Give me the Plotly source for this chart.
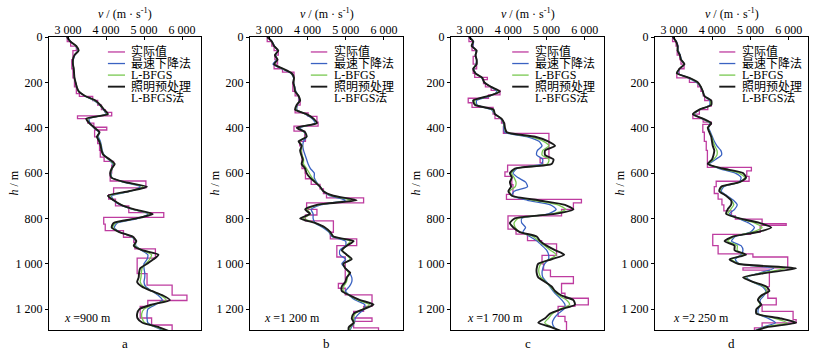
import plotly.graph_objects as go

# ---------------- data ----------------
depth = list(range(0, 1301, 20))

panel_letters = ["a", "b", "c", "d"]
panel_offsets = ["900", "1 200", "1 700", "2 250"]
series_names = ["实际值", "最速下降法", "L-BFGS", "照明预处理", "L-BFGS法"]
x_tickvals = [3000, 4000, 5000, 6000]
x_ticktext = ["3 000", "4 000", "5 000", "6 000"]
y_tickvals = [0, 200, 400, 600, 800, 1000, 1200]
y_ticktext = ["0", "200", "400", "600", "800", "1 000", "1 200"]

# --- panel a (x = 900 m) ---
true_a_top = [0, 20, 40, 60, 100, 140, 180, 220, 250, 262, 280, 300, 320, 332, 348, 360, 380, 398, 410, 440,
              470, 500, 530, 548, 565, 600, 635, 665, 695, 715, 745, 774, 795, 825, 854, 883, 905, 934, 975,
              1043, 1094, 1138, 1162, 1188, 1239, 1270, 1300]
true_a_vel = [2980, 3070, 3220, 3130, 3100, 3130, 3170, 3220, 3300, 3650, 3780, 3880, 3980, 4150, 3250, 3520,
              3680, 4020, 3700, 3780, 3830, 3850, 3950, 4200, 4150, 4110, 5050, 4200, 4070, 4250, 4600, 5520,
              3940, 3980, 4460, 4730, 4760, 5300, 4820, 5080, 5740, 6130, 5100, 4900, 5200, 5740, 5740]
sd_a = [2990, 3070, 3200, 3260, 3180, 3140, 3130, 3150, 3160, 3170,
        3200, 3230, 3290, 3440, 3680, 3830, 3930, 4000, 3560, 3580,
        3680, 3810, 3800, 3850, 3880, 3900, 3950, 4070, 4180, 4160,
        4130, 4160, 4450, 4900, 4650, 4150, 4200, 4380, 4700, 5100,
        4850, 4300, 4220, 4360, 4660, 4780, 4780, 4930, 5100, 5080,
        5000, 5000, 5020, 5020, 5000, 5040, 5200, 5380, 5480, 5300,
        5100, 5080, 5080, 5100, 5300, 5600]
lbfgs_a = [2980, 3060, 3210, 3270, 3170, 3130, 3130, 3150, 3160, 3170,
           3200, 3230, 3290, 3450, 3700, 3840, 3940, 4020, 3520, 3560,
           3690, 3820, 3780, 3830, 3870, 3890, 3940, 4080, 4200, 4160,
           4120, 4150, 4480, 4980, 4620, 4100, 4200, 4400, 4720, 5150,
           4820, 4250, 4180, 4350, 4680, 4790, 4760, 4950, 5200, 5150,
           5050, 4950, 4930, 4920, 4900, 4980, 5200, 5450, 5580, 5250,
           5000, 4940, 4950, 5020, 5350, 5650]
ilbfgs_a = [2970, 3060, 3220, 3280, 3170, 3130, 3130, 3150, 3160, 3170,
            3200, 3230, 3280, 3450, 3720, 3850, 3950, 4050, 3480, 3560,
            3700, 3830, 3760, 3820, 3860, 3880, 3930, 4100, 4230, 4150,
            4110, 4140, 4500, 5080, 4600, 4050, 4200, 4400, 4750, 5230,
            4800, 4200, 4150, 4350, 4700, 4800, 4730, 4950, 5380, 5250,
            5080, 4900, 4870, 4860, 4820, 4940, 5200, 5500, 5680, 5200,
            4880, 4820, 4830, 4960, 5400, 5700]

# --- panel b (x = 1 200 m) ---
true_b_top = [0, 20, 40, 60, 80, 100, 120, 140, 155, 180, 200, 240, 260, 280, 300, 320, 335, 350, 375, 393,
              415, 440, 460, 480, 520, 560, 580, 600, 625, 650, 670, 690, 709, 731, 760, 785, 811, 861, 890,
              920, 970, 1087, 1108, 1137, 1188, 1210, 1239, 1254, 1283, 1300]
true_b_vel = [2950, 3070, 3130, 3240, 3150, 3220, 3130, 3350, 3650, 3650, 3620, 3680, 3770, 3810, 3720, 3680,
              4020, 4250, 4280, 3650, 3930, 3950, 3800, 3850, 3860, 3860, 3940, 3950, 4100, 4330, 4420, 4500,
              5470, 3980, 4250, 3950, 4680, 4600, 5290, 4770, 4990, 4810, 4990, 5690, 5470, 5210, 5690, 5210,
              5860, 5860]
sd_b = [2970, 3080, 3140, 3220, 3170, 3200, 3100, 3330, 3570, 3640,
        3640, 3670, 3700, 3770, 3790, 3740, 3720, 3950, 4120, 4200,
        3800, 3920, 3980, 3900, 3880, 3900, 3940, 3980, 4020, 4080,
        4180, 4180, 4240, 4330, 4420, 4580, 5000, 4350, 4100, 4150,
        4150, 4200, 4400, 4560, 4640, 5000, 5000, 4850, 4850, 5000,
        4900, 5000, 5100, 5160, 5160, 5100, 5000, 5100, 5250, 5500,
        5480, 5350, 5250, 5230, 5150, 5100]
lbfgs_b = [2960, 3070, 3130, 3230, 3160, 3210, 3140, 3350, 3580, 3650,
           3640, 3660, 3690, 3770, 3800, 3730, 3700, 3970, 4150, 4230,
           3750, 3930, 3970, 3800, 3860, 3840, 3860, 3900, 3900, 3980,
           4050, 4120, 4220, 4330, 4420, 4620, 5150, 4300, 4000, 4080,
           3900, 4200, 4450, 4580, 4670, 5120, 5020, 4920, 5020, 5120,
           4950, 4990, 5080, 5050, 5020, 4950, 4940, 5100, 5320, 5620,
           5450, 5250, 5200, 5220, 5120, 5100]
ilbfgs_b = [2950, 3070, 3130, 3240, 3150, 3220, 3130, 3370, 3590, 3650,
            3630, 3660, 3680, 3770, 3810, 3720, 3680, 3980, 4160, 4250,
            3720, 3940, 3980, 3770, 3850, 3810, 3840, 3880, 3850, 3940,
            3980, 4070, 4200, 4330, 4420, 4680, 5290, 4250, 3940, 4070,
            3810, 4200, 4460, 4600, 4680, 5210, 5030, 4900, 5030, 5160,
            4940, 4990, 5120, 5030, 4990, 4900, 4900, 5120, 5380, 5730,
            5470, 5210, 5160, 5210, 5080, 5080]

# --- panel c (x = 1 700 m) ---
true_c_top = [0, 20, 40, 60, 85, 120, 140, 160, 178, 188, 205, 220, 235, 255, 270, 290, 310, 340, 360, 380,
              395, 425, 535, 555, 565, 595, 615, 651, 694, 716, 731, 760, 789, 847, 869, 898, 912, 963, 1000,
              1028, 1057, 1087, 1130, 1152, 1181, 1188, 1232, 1255, 1300]
true_c_vel = [2970, 3080, 3050, 3150, 3080, 3170, 3080, 3120, 3450, 3350, 3400, 3550, 3780, 3480, 2950, 3050,
              3600, 3650, 3820, 3900, 3870, 5060, 4830, 4900, 3980, 3910, 4090, 4120, 3950, 5910, 5700, 5390,
              3990, 4200, 4500, 4870, 5260, 4880, 4920, 5100, 5700, 5390, 5480, 6090, 5740, 5300, 5480, 5520,
              5520]
sd_c = [2990, 3090, 3070, 3150, 3140, 3170, 3150, 3100, 3150, 3300,
        3370, 3540, 3700, 3530, 3170, 3180, 3550, 3650, 3800, 3870,
        3880, 3900, 4500, 4800, 4880, 4760, 4740, 4900, 4870, 4230,
        4120, 4250, 4450, 4500, 4150, 4100, 4500, 5100, 5250, 5050,
        4350, 4350, 4450, 4380, 4560, 4750, 4880, 5000, 5050, 5050,
        4950, 4900, 4880, 4900, 5000, 5080, 5170, 5280, 5400, 5480,
        5450, 5300, 5200, 5150, 5200, 5350]
lbfgs_c = [2980, 3080, 3050, 3160, 3140, 3170, 3160, 3090, 3140, 3310,
           3370, 3550, 3740, 3500, 3120, 3150, 3580, 3650, 3810, 3880,
           3900, 3940, 4600, 4920, 5060, 4900, 4880, 5060, 5020, 4200,
           4080, 4150, 4200, 4180, 4030, 4100, 4650, 5300, 5500, 5150,
           4250, 4150, 4180, 4300, 4650, 4800, 4950, 5100, 5250, 5080,
           4850, 4800, 4800, 4850, 4980, 5100, 5200, 5320, 5520, 5600,
           5350, 5150, 5050, 4950, 5150, 5400]
ilbfgs_c = [2970, 3080, 3040, 3170, 3140, 3170, 3170, 3080, 3140, 3320,
            3370, 3550, 3780, 3480, 3080, 3130, 3610, 3650, 3820, 3890,
            3910, 3960, 4700, 5040, 5220, 4960, 4960, 5180, 5130, 4170,
            4040, 4090, 4040, 4070, 4000, 4090, 4780, 5480, 5700, 5220,
            4170, 4040, 4130, 4300, 4740, 4830, 5000, 5220, 5460, 5130,
            4780, 4740, 4740, 4780, 4960, 5130, 5220, 5390, 5700, 5740,
            5390, 5090, 4960, 4780, 5130, 5430]

# --- panel d (x = 2 250 m) ---
true_d_top = [0, 20, 40, 60, 80, 100, 120, 140, 160, 180, 200, 220, 240, 260, 280, 305, 320, 340, 360, 375,
              385, 420, 460, 500, 575, 590, 615, 636, 660, 690, 715, 740, 767, 789, 803, 823, 830, 861, 870,
              920, 956, 970, 1018, 1028, 1101, 1152, 1181, 1210, 1246, 1261, 1283, 1300]
true_d_vel = [2960, 3050, 3100, 3080, 3150, 3180, 3260, 3130, 3070, 3400, 3620, 3700, 3760, 3800, 3970, 3880,
              3660, 3490, 3760, 3970, 3750, 3790, 3840, 3870, 5020, 4900, 4960, 4100, 4050, 4150, 4250, 4300,
              4500, 4600, 5300, 5930, 5250, 5000, 4010, 4150, 5060, 5970, 4800, 5490, 5450, 5670, 5300, 6110,
              6190, 5300, 5100, 5100]
sd_d = [2980, 3060, 3100, 3110, 3160, 3190, 3260, 3150, 3100, 3370,
        3580, 3690, 3750, 3790, 3930, 3930, 3680, 3530, 3730, 3930,
        3900, 3950, 4000, 4050, 4120, 4220, 4240, 4080, 3920, 4180,
        4600, 4750, 4700, 4300, 4230, 4380, 4550, 4650, 4580, 4450,
        4680, 4950, 5100, 5000, 4600, 4500, 4750, 4800, 4750, 4600,
        4700, 5600, 5250, 4900, 5050, 5300, 5400, 5350, 5250, 5250,
        5200, 5200, 5450, 5650, 5300, 5050]
lbfgs_d = [2970, 3050, 3090, 3100, 3150, 3180, 3260, 3140, 3080, 3390,
           3600, 3700, 3750, 3790, 3950, 3950, 3670, 3510, 3740, 3950,
           3890, 3930, 3980, 4020, 4060, 4120, 4120, 4030, 3900, 4230,
           4700, 4850, 4720, 4260, 4200, 4360, 4500, 4560, 4480, 4400,
           4700, 5100, 5300, 5050, 4560, 4400, 4650, 4650, 4800, 4500,
           4700, 5900, 5300, 4850, 5050, 5350, 5420, 5300, 5200, 5250,
           5160, 5170, 5620, 5950, 5350, 5050]
ilbfgs_d = [2960, 3050, 3090, 3090, 3150, 3180, 3270, 3140, 3070, 3400,
            3620, 3700, 3750, 3790, 3970, 3970, 3660, 3490, 3750, 3970,
            3880, 3920, 3970, 3990, 4010, 4050, 4030, 3990, 3880, 4270,
            4800, 4880, 4710, 4230, 4180, 4360, 4490, 4490, 4400, 4360,
            4710, 5230, 5540, 5190, 4530, 4320, 4580, 4580, 4880, 4450,
            4670, 6190, 5410, 4800, 5060, 5410, 5490, 5280, 5190, 5280,
            5150, 5150, 5760, 6190, 5410, 5060]

panels = [
    (true_a_top, true_a_vel, sd_a, lbfgs_a, ilbfgs_a),
    (true_b_top, true_b_vel, sd_b, lbfgs_b, ilbfgs_b),
    (true_c_top, true_c_vel, sd_c, lbfgs_c, ilbfgs_c),
    (true_d_top, true_d_vel, sd_d, lbfgs_d, ilbfgs_d),
]

# ---------------- styling ----------------
C_TRUE = "#BE3CA0"
C_SD = "#3A62C2"
C_LB = "#78C850"
C_ILB = "#1A1A1A"
FONT = "Liberation Serif, Times New Roman, Noto Sans CJK SC, serif"

W, H = 816, 351
ML, MR, MT, MB = 49, 8, 37, 21
PW = W - ML - MR
PH = H - MT - MB
panel_px = [(49, 201), (250, 403), (451, 604), (655, 808)]
legend_x = [(4050, 4500, 4610), (4090, 4520, 4640), (4100, 4530, 4650), (4180, 4600, 4730)]
label_x = [2840, 2810, 2860, 2920]

fig = go.Figure()
annotations = []
shapes = []

for i, (ttop, tvel, sd, lb, ilb) in enumerate(panels):
    n = "" if i == 0 else str(i + 1)
    xa, ya = "x" + n, "y" + n
    fig.add_trace(go.Scatter(x=tvel, y=ttop, mode="lines", line=dict(color=C_TRUE, width=1.3, shape="vh"),
                             name=series_names[0], showlegend=False, xaxis=xa, yaxis=ya))
    fig.add_trace(go.Scatter(x=sd, y=depth, mode="lines", line=dict(color=C_SD, width=1.3, shape="spline", smoothing=0.6),
                             name=series_names[1], showlegend=False, xaxis=xa, yaxis=ya))
    fig.add_trace(go.Scatter(x=lb, y=depth, mode="lines", line=dict(color=C_LB, width=1.3, shape="spline", smoothing=0.6),
                             name=series_names[2], showlegend=False, xaxis=xa, yaxis=ya))
    fig.add_trace(go.Scatter(x=ilb, y=depth, mode="lines", line=dict(color=C_ILB, width=1.9, shape="spline", smoothing=0.6),
                             name=series_names[3] + series_names[4], showlegend=False, xaxis=xa, yaxis=ya))

    x0, x1 = panel_px[i]
    dom = [(x0 - ML) / PW, (x1 - ML) / PW]
    axis_common = dict(showline=True, linecolor="black", linewidth=1, mirror=True, showgrid=False, zeroline=False,
                       tickcolor="black", tickwidth=1, ticklen=3,
                       tickfont=dict(family=FONT, size=12, color="black"))
    fig.layout["xaxis" + n] = dict(domain=dom, range=[2500, 6500], side="top", anchor=ya, ticks="inside",
                                   ticklabelstandoff=-3,
                                   tickvals=x_tickvals, ticktext=x_ticktext, **axis_common)
    fig.layout["yaxis" + n] = dict(domain=[0, 1], range=[1292, 0], anchor=xa, ticks="outside",
                                   tickvals=y_tickvals, ticktext=y_ticktext, **axis_common)

    # manual legend
    lx0, lx1, tx = legend_x[i]
    rows = [66, 117, 168, 219, 270]
    cols = [C_TRUE, C_SD, C_LB, C_ILB]
    for k in range(4):
        shapes.append(dict(type="line", xref=xa, yref=ya, x0=lx0, x1=lx1, y0=rows[k], y1=rows[k],
                           line=dict(color=cols[k], width=1.3 if k < 3 else 1.9)))
    for k in range(5):
        annotations.append(dict(xref=xa, yref=ya, x=tx, y=rows[k], text=series_names[k], showarrow=False,
                                xanchor="left", yanchor="middle", font=dict(family=FONT, size=12, color="black")))
    # position label
    annotations.append(dict(xref=xa, yref=ya, x=label_x[i], y=1240, text="<i>x</i> =" + panel_offsets[i] + " m",
                            showarrow=False, xanchor="left", yanchor="middle",
                            font=dict(family=FONT, size=12, color="black")))
    # axis titles
    cx = ((x0 + x1) / 2 - ML) / PW
    annotations.append(dict(xref="paper", yref="paper", x=cx, y=(PH + MT - 14) / PH,
                            text="<i>v</i> / (m · s<sup>-1</sup>)", showarrow=False,
                            xanchor="center", yanchor="middle", font=dict(family=FONT, size=12, color="black")))
    annotations.append(dict(xref="paper", yref="paper", x=cx, y=-(343 - MT - PH) / PH,
                            text=panel_letters[i], showarrow=False,
                            xanchor="center", yanchor="middle", font=dict(family=FONT, size=13, color="black")))
    annotations.append(dict(xref="paper", yref="paper", x=(x0 - 36 - ML) / PW, y=0.5,
                            text="<i>h</i> / m", showarrow=False, textangle=-90,
                            xanchor="center", yanchor="middle", font=dict(family=FONT, size=12, color="black")))

fig.update_layout(width=W, height=H, margin=dict(l=ML, r=MR, t=MT, b=MB, pad=0),
                  paper_bgcolor="white", plot_bgcolor="white", showlegend=False,
                  annotations=annotations, shapes=shapes,
                  font=dict(family=FONT, size=12, color="black"))

fig.write_html("out.html", config={"displayModeBar": False},
               post_script="document.body.style.margin='0';")
